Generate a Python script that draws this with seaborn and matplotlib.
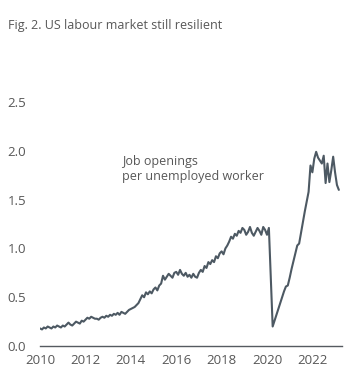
import matplotlib
matplotlib.use('Agg')
import numpy as np
import pandas as pd
import seaborn as sns
from matplotlib import pyplot as plt

# monthly job openings per unemployed worker, Jan 2010 - Mar 2023
ratio_2010 = [0.18, 0.17, 0.19, 0.18, 0.20, 0.19, 0.18, 0.20, 0.19, 0.21, 0.20, 0.19]
ratio_2011 = [0.21, 0.20, 0.22, 0.24, 0.22, 0.21, 0.23, 0.25, 0.24, 0.23, 0.26, 0.25]
ratio_2012 = [0.27, 0.29, 0.28, 0.30, 0.29, 0.28, 0.28, 0.27, 0.29, 0.30, 0.29, 0.31]
ratio_2013 = [0.30, 0.32, 0.31, 0.33, 0.32, 0.34, 0.32, 0.35, 0.34, 0.33, 0.35, 0.37]
ratio_2014 = [0.38, 0.39, 0.40, 0.42, 0.44, 0.48, 0.52, 0.50, 0.55, 0.53, 0.56, 0.54]
ratio_2015 = [0.58, 0.60, 0.57, 0.62, 0.64, 0.72, 0.68, 0.71, 0.74, 0.72, 0.70, 0.75]
ratio_2016 = [0.76, 0.73, 0.78, 0.74, 0.72, 0.75, 0.71, 0.73, 0.70, 0.74, 0.71, 0.70]
ratio_2017 = [0.75, 0.78, 0.76, 0.82, 0.80, 0.86, 0.84, 0.88, 0.86, 0.92, 0.90, 0.95]
ratio_2018 = [0.97, 0.94, 1.00, 1.03, 1.07, 1.12, 1.10, 1.15, 1.13, 1.18, 1.16, 1.21]
ratio_2019 = [1.19, 1.14, 1.17, 1.22, 1.16, 1.13, 1.17, 1.21, 1.18, 1.14, 1.22, 1.19]
ratio_2020 = [1.14, 1.21, 0.70, 0.20, 0.26, 0.32, 0.38, 0.44, 0.50, 0.56, 0.61, 0.62]
ratio_2021 = [0.70, 0.79, 0.87, 0.95, 1.03, 1.05, 1.16, 1.27, 1.38, 1.48, 1.58, 1.85]
ratio_2022 = [1.78, 1.92, 1.99, 1.93, 1.90, 1.87, 1.95, 1.67, 1.87, 1.68, 1.80, 1.94]
ratio_2023 = [1.78, 1.65, 1.60]

values = (ratio_2010 + ratio_2011 + ratio_2012 + ratio_2013 + ratio_2014 + ratio_2015
          + ratio_2016 + ratio_2017 + ratio_2018 + ratio_2019 + ratio_2020 + ratio_2021
          + ratio_2022 + ratio_2023)
years = 2010 + np.arange(len(values)) / 12

x_ticks = [2010, 2012, 2014, 2016, 2018, 2020, 2022]
y_ticks = [0.0, 0.5, 1.0, 1.5, 2.0, 2.5]

df = pd.DataFrame({'year': years, 'ratio': values})

sns.set_theme(style='white')
plt.rcParams['font.family'] = ['Open Sans', 'DejaVu Sans']

text_col = '#575757'
line_col = '#4d5963'

fig = plt.figure(figsize=(3.55, 3.91), dpi=100)
ax = fig.add_axes([0.113, 0.115, 0.85, 0.624])

sns.lineplot(data=df, x='year', y='ratio', ax=ax, color=line_col, linewidth=1.5)

ax.set_xlim(2010, 2023.3)
ax.set_ylim(0, 2.5)
ax.set_xticks(x_ticks)
ax.set_yticks(y_ticks)
ax.set_yticklabels([f'{v:.1f}' for v in y_ticks])
ax.set_xlabel('')
ax.set_ylabel('')
ax.tick_params(axis='both', length=0, labelsize=9.5, colors=text_col)
ax.tick_params(axis='y', pad=10)
ax.tick_params(axis='x', pad=6)

for side in ['top', 'right', 'left']:
    ax.spines[side].set_visible(False)
ax.spines['bottom'].set_color('#555a60')
ax.spines['bottom'].set_linewidth(1.0)

ax.text(2013.63, 1.96, 'Job openings\nper unemployed worker', fontsize=9,
        color=text_col, va='top', ha='left', linespacing=1.2)

fig.text(0.023, 0.935, 'Fig. 2. US labour market still resilient', fontsize=9,
         color=text_col, ha='left', va='center')

fig.savefig('out.png', dpi=100)
